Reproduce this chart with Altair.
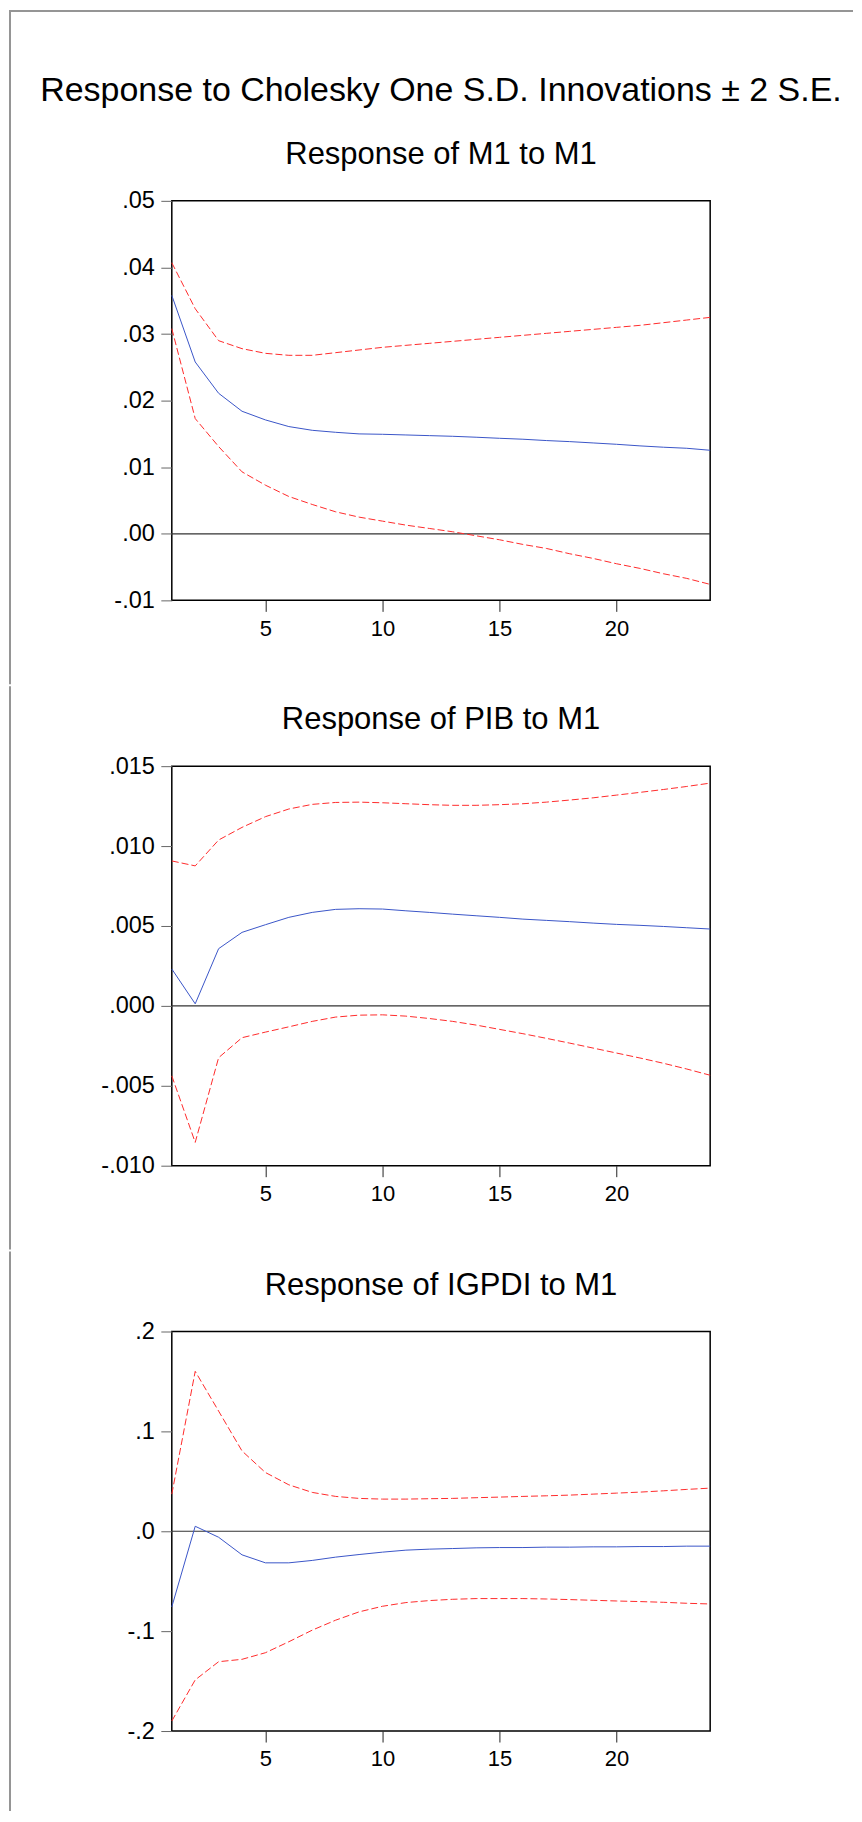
import altair as alt
import pandas as pd

# ---------------- data ----------------
periods = list(range(1, 25))

m1_resp = [0.0358, 0.0258, 0.0211, 0.0184, 0.0171, 0.0161, 0.01554, 0.01524, 0.0150, 0.01494,
           0.01484, 0.01474, 0.01464, 0.0145, 0.01434, 0.0142, 0.0140, 0.01384, 0.01364, 0.01344,
           0.0132, 0.0130, 0.01284, 0.01254]
m1_upper = [0.0407, 0.0338, 0.0290, 0.0278, 0.0271, 0.0268, 0.0268, 0.0272, 0.0276, 0.0280,
            0.0283, 0.0286, 0.0289, 0.0292, 0.0295, 0.0298, 0.0301, 0.0304, 0.0307, 0.0310,
            0.0313, 0.0317, 0.0321, 0.0325]
m1_lower = [0.0308, 0.0173, 0.0131, 0.0093, 0.0073, 0.0056, 0.0044, 0.0033, 0.0025, 0.0019,
            0.0013, 0.0008, 0.0003, -0.0003, -0.0009, -0.0016, -0.0022, -0.0030, -0.0037, -0.0045,
            -0.0052, -0.0060, -0.0067, -0.0076]

pib_resp = [0.00231, 0.00013, 0.00358, 0.0046, 0.00508, 0.00554, 0.00585, 0.00604, 0.00608, 0.00606,
            0.00595, 0.00585, 0.00574, 0.00564, 0.00554, 0.00543, 0.00535, 0.00527, 0.00518, 0.0051,
            0.00504, 0.00497, 0.00489, 0.00481]
pib_upper = [0.00907, 0.00876, 0.01038, 0.01117, 0.01184, 0.01232, 0.01261, 0.01273, 0.01275, 0.01271,
             0.01265, 0.01259, 0.01255, 0.01255, 0.01259, 0.01265, 0.01275, 0.01288, 0.01302, 0.01319,
             0.01336, 0.01354, 0.01373, 0.01394]
pib_lower = [-0.00438, -0.00854, -0.00324, -0.00199, -0.00164, -0.00131, -0.00097, -0.0007, -0.00058, -0.00056,
             -0.00064, -0.00079, -0.00097, -0.0012, -0.00147, -0.00174, -0.00203, -0.00233, -0.00264, -0.00295,
             -0.00326, -0.00359, -0.00395, -0.00434]

igpdi_resp = [-0.0757, 0.005, -0.006, -0.0236, -0.0316, -0.0316, -0.0292, -0.0259, -0.0233, -0.0209,
              -0.0189, -0.0179, -0.0173, -0.0166, -0.0163, -0.0163, -0.0159, -0.0159, -0.0156, -0.0156,
              -0.0153, -0.0153, -0.0149, -0.0149]
igpdi_upper = [0.0372, 0.1601, 0.1203, 0.0804, 0.0588, 0.0465, 0.0389, 0.0349, 0.0329, 0.0322,
               0.0322, 0.0326, 0.0329, 0.0336, 0.0342, 0.0349, 0.0355, 0.0362, 0.0372, 0.0382,
               0.0392, 0.0405, 0.0419, 0.0432]
igpdi_lower = [-0.190, -0.1488, -0.1306, -0.1282, -0.1216, -0.1106, -0.099, -0.089, -0.0807, -0.0751,
               -0.0714, -0.0694, -0.0681, -0.0674, -0.0674, -0.0674, -0.0678, -0.0684, -0.0691, -0.0698,
               -0.0704, -0.0711, -0.0721, -0.0728]

x_ticks = [5, 10, 15, 20]
m1_yticks = [-0.01, 0.0, 0.01, 0.02, 0.03, 0.04, 0.05]
pib_yticks = [-0.010, -0.005, 0.0, 0.005, 0.010, 0.015]
igpdi_yticks = [-0.2, -0.1, 0.0, 0.1, 0.2]

main_title = "Response to Cholesky One S.D. Innovations \u00b1 2 S.E."
panel_titles = ["Response of M1 to M1", "Response of PIB to M1", "Response of IGPDI to M1"]

# ---------------- style ----------------
FONT = "Liberation Sans"
W, H = 539, 400
BLUE = "#3a55c8"
RED = "#ff2b2b"
BORDER = "#959595"

one = pd.DataFrame({"k": [0]})


def panel(title, resp, upper, lower, domain, yticks, dec, top, bottom, with_main=False):
    df = pd.DataFrame({"period": periods, "resp": resp, "upper": upper, "lower": lower})
    xs = alt.Scale(domain=[1, 24], nice=False, zero=False)
    ys = alt.Scale(domain=domain, nice=False, zero=False)
    xa = alt.Axis(values=x_ticks, title=None, domain=False, grid=False, tickSize=11,
                  tickColor="#222", tickWidth=1, labelPadding=7, labelFont=FONT,
                  labelFontSize=22, labelColor="#000", labelFlush=False)
    ya = alt.Axis(values=yticks, title=None, domain=False, grid=False, tickSize=11,
                  tickColor="#666", tickWidth=1, labelPadding=6.5, labelFont=FONT,
                  labelFontSize=23.5, labelColor="#000",
                  labelExpr="replace(replace(format(datum.value, '.%df'), '0.', '.'), '\u2212', '-')" % dec)

    def X():
        return alt.X("period:Q", scale=xs, axis=xa)

    def Y(f):
        return alt.Y(f + ":Q", scale=ys, axis=ya)

    base = alt.Chart(df)
    zero = alt.Chart(one).mark_rule(color="#333", strokeWidth=1.2).encode(y=alt.datum(0))
    l_up = base.mark_line(color=RED, strokeWidth=1, strokeDash=[7, 3]).encode(x=X(), y=Y("upper"))
    l_lo = base.mark_line(color=RED, strokeWidth=1, strokeDash=[7, 3]).encode(x=X(), y=Y("lower"))
    l_re = base.mark_line(color=BLUE, strokeWidth=1).encode(x=X(), y=Y("resp"))

    # outer frame of the graph (filled thin rects: exact bounds, no stroke padding)
    left = alt.Chart(one).mark_rect(color=BORDER).encode(
        x=alt.value(-163), x2=alt.value(-161), y=alt.value(top), y2=alt.value(bottom))
    ttl = alt.Chart(one).mark_text(text=title, font=FONT, fontSize=31, color="#000",
                                   align="center", baseline="alphabetic").encode(
        x=alt.value(W / 2), y=alt.value(-37))
    layers = [left, zero, l_up, l_lo, l_re, ttl]
    if with_main:
        topb = alt.Chart(one).mark_rect(color=BORDER).encode(
            x=alt.value(-163), x2=alt.value(682), y=alt.value(top), y2=alt.value(top + 2))
        mt = alt.Chart(one).mark_text(text=main_title, font=FONT, fontSize=34, color="#000",
                                      align="center", baseline="alphabetic").encode(
            x=alt.value(W / 2), y=alt.value(-100))
        layers += [topb, mt]
    return alt.layer(*layers).properties(width=W, height=H)


p1 = panel(panel_titles[0], m1_resp, m1_upper, m1_lower, [-0.01, 0.05], m1_yticks, 2,
           -191, 484, with_main=True)
p2 = panel(panel_titles[1], pib_resp, pib_upper, pib_lower, [-0.010, 0.015], pib_yticks, 3,
           -80, 484)
p3 = panel(panel_titles[2], igpdi_resp, igpdi_upper, igpdi_lower, [-0.2, 0.2], igpdi_yticks, 1,
           -80, 480)

chart = alt.vconcat(p1, p2, p3, spacing=0).properties(
    padding=0, background="white"
).configure_view(stroke="#000", strokeWidth=1.5).resolve_scale(y="independent", x="independent")

chart.save("out.html", embed_options={"renderer": "svg", "actions": False})
